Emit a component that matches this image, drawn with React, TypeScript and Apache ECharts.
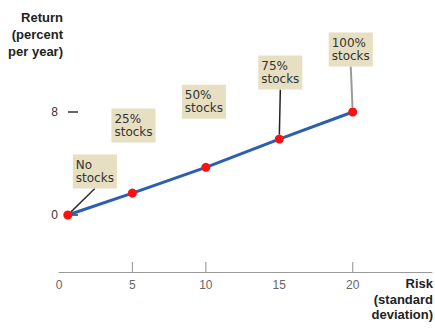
import React, { useEffect, useRef } from "react";
import * as echarts from "echarts";

const risk = [0.6, 5, 10, 15, 20];
const returns = [0, 1.7, 3.7, 5.9, 8];
const portfolioLabels = ["No\nstocks", "25%\nstocks", "50%\nstocks", "75%\nstocks", "100%\nstocks"];
const showLeader = [true, false, false, true, true];
const xTickMarks = [5, 10, 20];
const xLabelMax = 20;
const yTitle = "Return\n(percent\nper year)";
const xTitle = "Risk\n(standard\ndeviation)";

const LBL_DX = [5, -21, -24, -21, -24];
const LBL_DY = [-22, -46, -44, -45, -41];
const LEADER_COLORS = ["#333", "#333", "#333", "#222", "#9a9a9a"];

export default function App() {
  const ref = useRef<HTMLDivElement>(null);
  useEffect(() => {
    document.body.style.margin = "0";
    const chart = echarts.init(ref.current!, null, { renderer: "svg" });
    const font = "'Liberation Sans', Arial, sans-serif";
    chart.setOption({
      animation: false,
      backgroundColor: "#ffffff",
      grid: { left: 59, right: 0, top: 112, bottom: 113 },
      xAxis: {
        type: "value",
        min: 0,
        max: 25.4,
        interval: 5,
        offset: 57,
        axisLine: { show: true, onZero: false, lineStyle: { color: "#9a9a9a", width: 1 } },
        axisTick: { show: false },
        splitLine: { show: false },
        axisLabel: {
          margin: 7,
          color: "#666",
          fontSize: 12,
          fontFamily: font,
          formatter: (v: number) => (v <= xLabelMax ? String(v) : ""),
        },
      },
      yAxis: {
        type: "value",
        min: 0,
        max: 8,
        interval: 8,
        offset: -9,
        axisLine: { show: false, onZero: false },
        axisTick: { show: true, inside: true, length: 10, lineStyle: { color: "#333", width: 1.5 } },
        splitLine: { show: false },
        axisLabel: { margin: 10, color: "#333", fontSize: 12, fontFamily: font },
      },
      graphic: [
        {
          type: "text",
          x: 63,
          y: 9,
          style: {
            text: yTitle,
            textAlign: "right",
            fontSize: 13,
            fontWeight: "bold",
            fontFamily: font,
            lineHeight: 17,
            fill: "#222",
          },
        },
        {
          type: "text",
          x: 433,
          y: 276,
          style: {
            text: xTitle,
            textAlign: "right",
            fontSize: 13,
            fontWeight: "bold",
            fontFamily: font,
            lineHeight: 15.5,
            fill: "#222",
          },
        },
      ],
      series: [
        {
          type: "scatter",
          data: xTickMarks.map((v) => [v, 0]),
          symbol: "rect",
          symbolSize: [1.2, 10],
          symbolOffset: [0, 52],
          itemStyle: { color: "#8a8a8a" },
          clip: false,
          silent: true,
          z: 1,
        },
        {
          type: "line",
          data: risk.map((x, i) => ({
            value: [x, returns[i]],
            labelLine: {
              show: showLeader[i],
              lineStyle: { color: LEADER_COLORS[i], width: i === 4 ? 2 : 1.5 },
            },
          })),
          symbol: "circle",
          symbolSize: 9,
          lineStyle: { color: "#2c5fb0", width: 3 },
          itemStyle: { color: "#ff1010" },
          z: 3,
          label: {
            show: true,
            position: "top",
            distance: 0,
            align: "left",
            formatter: (p: any) => portfolioLabels[p.dataIndex],
            backgroundColor: "#e6dfc2",
            padding: [4, 3],
            color: "#333",
            fontSize: 12,
            lineHeight: 13,
            fontFamily: "'DejaVu Sans', sans-serif",
          },
          labelLine: { show: true, smooth: false },
          labelLayout: (params: any) => ({
            dx: LBL_DX[params.dataIndex],
            dy: LBL_DY[params.dataIndex],
          }),
        },
      ],
    });
    return () => chart.dispose();
  }, []);
  return <div ref={ref} style={{ width: 435, height: 328 }} />;
}
